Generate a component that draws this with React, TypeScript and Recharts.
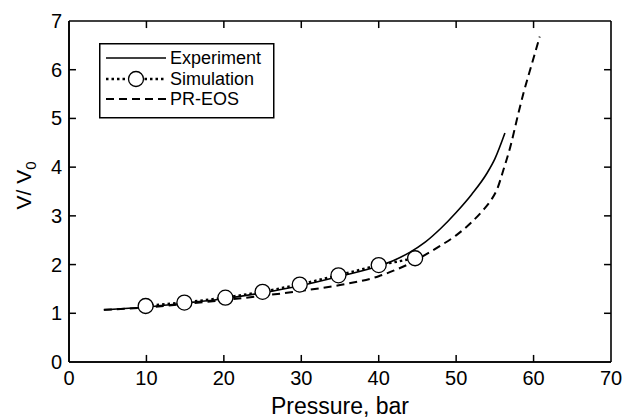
import { ComposedChart, Line, ReferenceLine, XAxis, YAxis } from "recharts";

// Pressure (bar) vs V/V0
const expPressure = [4.5, 10, 15, 20, 25, 30, 35, 40, 42, 44, 46, 48, 50, 52, 54, 55, 56.3];
const expVolume = [1.07, 1.13, 1.21, 1.3, 1.42, 1.57, 1.76, 1.97, 2.09, 2.25, 2.46, 2.74, 3.07, 3.44, 3.88, 4.17, 4.7];

const simPressure = [9.9, 14.9, 20.2, 25, 29.8, 34.8, 40, 44.7];
const simVolume = [1.15, 1.22, 1.32, 1.44, 1.59, 1.78, 1.99, 2.13];

const eosPressure = [4.5, 10, 15, 20, 25, 30, 35, 40, 42, 44, 46, 48, 50, 52, 53.5, 54.5, 55.3, 56.1, 57, 58, 58.7, 59.8, 60.8];
const eosVolume = [1.07, 1.12, 1.19, 1.27, 1.36, 1.46, 1.58, 1.76, 1.88, 2.02, 2.2, 2.39, 2.6, 2.87, 3.12, 3.32, 3.55, 3.94, 4.42, 5.08, 5.52, 6.13, 6.68];

const xTicks = [0, 10, 20, 30, 40, 50, 60, 70];
const yTicks = [0, 1, 2, 3, 4, 5, 6, 7];

const X_MIN = 0;
const X_MAX = 70;
const Y_MIN = 0;
const Y_MAX = 7;

const toPoints = (xs: number[], ys: number[]) => xs.map((x, i) => ({ x, y: ys[i] }));

const experiment = toPoints(expPressure, expVolume);
const simulation = toPoints(simPressure, simVolume);
const prEos = toPoints(eosPressure, eosVolume);

const FONT = "Arial, 'Liberation Sans', Helvetica, sans-serif";
// inward tick length, in data units (about 7px each way)
const X_TICK_LEN = 0.9;
const Y_TICK_LEN = 0.145;
const GAP = 2;

const BottomTick = ({ x, y, payload }: any) => (
  <text x={x} y={y - GAP + 23} textAnchor="middle" fontSize={20} fontFamily={FONT} fill="#000">
    {payload.value}
  </text>
);
const LeftTick = ({ x, y, payload }: any) => (
  <text x={x + GAP - 7} y={y + 7} textAnchor="end" fontSize={20} fontFamily={FONT} fill="#000">
    {payload.value}
  </text>
);

const XLabel = ({ viewBox }: any) => (
  <text
    x={viewBox.x + viewBox.width / 2}
    y={414}
    textAnchor="middle"
    fontSize={23}
    fontFamily={FONT}
    fill="#000"
  >
    Pressure, bar
  </text>
);

const YLabel = ({ viewBox }: any) => {
  const cx = 31;
  const cy = viewBox.y + viewBox.height / 2 - 6;
  return (
    <text
      transform={`translate(${cx},${cy}) rotate(-90)`}
      textAnchor="middle"
      fontSize={21}
      fontFamily={FONT}
      fill="#000"
    >
      V/ V
      <tspan fontSize={15} dy={5}>
        0
      </tspan>
    </text>
  );
};

function LegendBox() {
  return (
    <svg width={176} height={76} style={{ display: "block" }}>
      <rect x={0.75} y={0.75} width={174} height={74} fill="#fff" stroke="#000" strokeWidth={1.5} />
      <line x1={7} x2={67} y1={15} y2={15} stroke="#000" strokeWidth={1.6} />
      <line x1={7} x2={67} y1={36} y2={36} stroke="#000" strokeWidth={2.5} strokeDasharray="2.5 3" />
      <circle cx={37} cy={36} r={7.5} fill="#fff" stroke="#000" strokeWidth={1.3} />
      <line x1={7} x2={67} y1={56} y2={56} stroke="#000" strokeWidth={2} strokeDasharray="8 5" />
      <g fontFamily={FONT} fontSize={18} fill="#000">
        <text x={71} y={21}>Experiment</text>
        <text x={71} y={42}>Simulation</text>
        <text x={71} y={62}>PR-EOS</text>
      </g>
    </svg>
  );
}

export default function App() {
  const frame = { xAxisId: "b", yAxisId: "l", stroke: "#000", strokeWidth: 1.6 };
  const tick = { xAxisId: "b", yAxisId: "l", stroke: "#000", strokeWidth: 1.5 };
  const innerX = xTicks.filter((t) => t > X_MIN && t < X_MAX);
  const innerY = yTicks.filter((t) => t > Y_MIN && t < Y_MAX);
  return (
    <div style={{ position: "fixed", left: 0, top: 0, width: 628, height: 418, background: "#fff" }}>
      <ComposedChart width={628} height={418} margin={{ top: 21, right: 17, bottom: 0, left: 0 }}>
        <XAxis
          xAxisId="b"
          type="number"
          dataKey="x"
          domain={[X_MIN, X_MAX]}
          ticks={xTicks}
          height={56}
          tickSize={0}
          tickMargin={GAP}
          axisLine={{ stroke: "#000", strokeWidth: 1.6 }}
          tickLine={{ stroke: "none" }}
          tick={<BottomTick />}
          interval={0}
          label={<XLabel />}
        />
        <YAxis
          yAxisId="l"
          type="number"
          domain={[Y_MIN, Y_MAX]}
          ticks={yTicks}
          width={69}
          tickSize={0}
          tickMargin={GAP}
          axisLine={{ stroke: "#000", strokeWidth: 1.6 }}
          tickLine={{ stroke: "none" }}
          tick={<LeftTick />}
          interval={0}
          label={<YLabel />}
        />

        {/* box frame */}
        <ReferenceLine {...frame} x={X_MIN} />
        <ReferenceLine {...frame} x={X_MAX} />
        <ReferenceLine {...frame} y={Y_MIN} />
        <ReferenceLine {...frame} y={Y_MAX} />

        {/* inward ticks on all four sides */}
        {innerX.map((t) => (
          <ReferenceLine key={`b${t}`} {...tick} segment={[{ x: t, y: Y_MIN }, { x: t, y: Y_MIN + Y_TICK_LEN }]} />
        ))}
        {innerX.map((t) => (
          <ReferenceLine key={`t${t}`} {...tick} segment={[{ x: t, y: Y_MAX }, { x: t, y: Y_MAX - Y_TICK_LEN }]} />
        ))}
        {innerY.map((t) => (
          <ReferenceLine key={`l${t}`} {...tick} segment={[{ x: X_MIN, y: t }, { x: X_MIN + X_TICK_LEN, y: t }]} />
        ))}
        {innerY.map((t) => (
          <ReferenceLine key={`r${t}`} {...tick} segment={[{ x: X_MAX, y: t }, { x: X_MAX - X_TICK_LEN, y: t }]} />
        ))}

        <Line
          xAxisId="b"
          yAxisId="l"
          data={experiment}
          dataKey="y"
          type="monotone"
          stroke="#000"
          strokeWidth={1.6}
          dot={false}
          activeDot={false}
          isAnimationActive={false}
        />
        <Line
          xAxisId="b"
          yAxisId="l"
          data={prEos}
          dataKey="y"
          type="monotone"
          stroke="#000"
          strokeWidth={2}
          strokeDasharray="8 5"
          dot={false}
          activeDot={false}
          isAnimationActive={false}
        />
        <Line
          xAxisId="b"
          yAxisId="l"
          data={simulation}
          dataKey="y"
          type="linear"
          stroke="#000"
          strokeWidth={2.5}
          strokeDasharray="2.5 3"
          dot={{ r: 7.5, fill: "#fff", stroke: "#000", strokeWidth: 1.3, strokeDasharray: "" }}
          activeDot={false}
          isAnimationActive={false}
        />
      </ComposedChart>
      <div style={{ position: "absolute", left: 99, top: 43 }}>
        <LegendBox />
      </div>
    </div>
  );
}
